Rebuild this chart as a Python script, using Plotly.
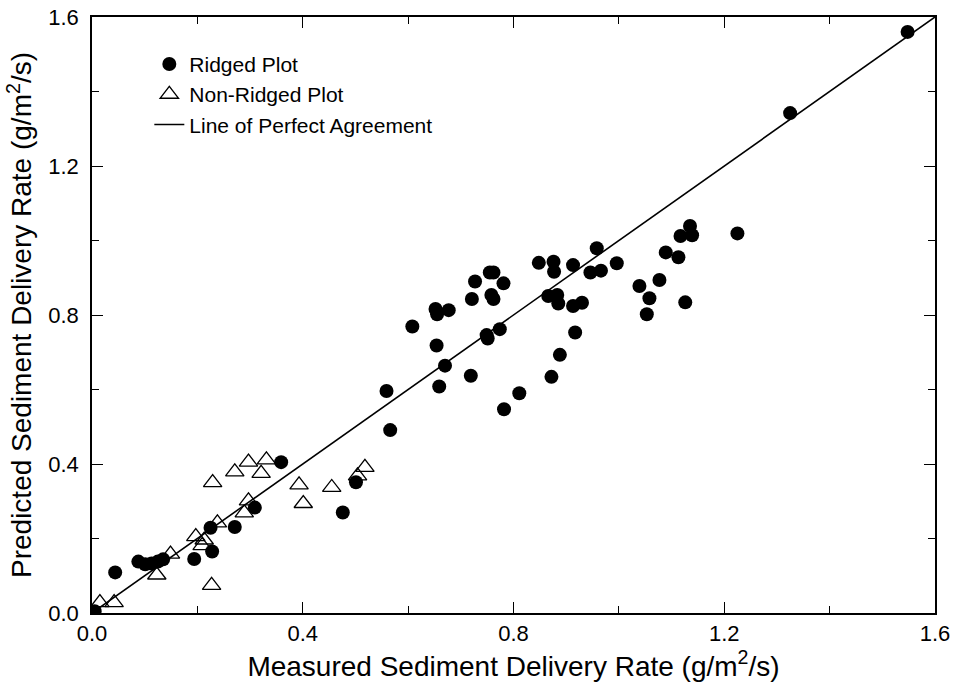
import plotly.graph_objects as go

# Ridged plot (filled circles)
ridged_x = [1.548, 1.325, 1.225, 1.135, 1.117, 1.139, 1.089, 1.113, 1.077, 1.126,
            1.058, 1.053, 1.039, 0.996, 0.966, 0.946, 0.958, 0.913, 0.876, 0.877,
            0.848, 0.866, 0.883, 0.885, 0.913, 0.930, 0.917, 0.888, 0.872, 0.811,
            0.782, 0.774, 0.749, 0.751, 0.758, 0.762, 0.781, 0.755, 0.762, 0.727,
            0.721, 0.719, 0.677, 0.652, 0.655, 0.654, 0.670, 0.659, 0.608, 0.559,
            0.566, 0.501, 0.476, 0.359, 0.309, 0.271, 0.225, 0.228, 0.194, 0.044,
            0.088, 0.101, 0.113, 0.125, 0.135, 0.005]
ridged_y = [1.560, 1.342, 1.019, 1.039, 1.012, 1.014, 0.968, 0.955, 0.894, 0.834,
            0.845, 0.802, 0.878, 0.939, 0.919, 0.914, 0.979, 0.934, 0.943, 0.916,
            0.940, 0.851, 0.854, 0.831, 0.824, 0.833, 0.753, 0.693, 0.634, 0.590,
            0.547, 0.762, 0.746, 0.737, 0.854, 0.843, 0.885, 0.914, 0.914, 0.890,
            0.843, 0.637, 0.813, 0.816, 0.802, 0.718, 0.664, 0.608, 0.769, 0.596,
            0.491, 0.351, 0.270, 0.405, 0.283, 0.231, 0.229, 0.165, 0.145, 0.109,
            0.138, 0.131, 0.133, 0.138, 0.144, 0.005]

# Non-ridged plot (open triangles)
nonridged_x = [0.015, 0.042, 0.123, 0.149, 0.227, 0.229, 0.197, 0.213, 0.209,
               0.238, 0.271, 0.297, 0.331, 0.321, 0.297, 0.289, 0.393, 0.401, 0.455,
               0.518, 0.504]
nonridged_y = [0.028, 0.028, 0.102, 0.158, 0.074, 0.350, 0.205, 0.196, 0.181,
               0.242, 0.379, 0.405, 0.411, 0.375, 0.301, 0.269, 0.344, 0.294, 0.337,
               0.391, 0.368]

# Line of perfect agreement
line_x = [0.0, 1.6]
line_y = [0.0, 1.6]

font_family = "Liberation Sans, Arial, sans-serif"

fig = go.Figure()
fig.add_trace(go.Scatter(
    x=ridged_x, y=ridged_y, mode="markers", name="Ridged Plot",
    marker=dict(symbol="circle", size=14, color="black"),
))
fig.add_trace(go.Scatter(
    x=nonridged_x, y=nonridged_y, mode="markers", name="Non-Ridged Plot",
    marker=dict(symbol="triangle-up-open", size=16, color="black", line=dict(width=1.3)),
))
fig.add_trace(go.Scatter(
    x=line_x, y=line_y, mode="lines", name="Line of Perfect Agreement",
    line=dict(color="black", width=1.6),
))

axis_common = dict(
    range=[0, 1.6],
    dtick=0.4,
    tick0=0,
    tickformat=".1f",
    ticks="inside",
    ticklen=11,
    tickwidth=1.2,
    tickcolor="black",
    minor=dict(dtick=0.2, ticks="inside", ticklen=7, tickwidth=1, tickcolor="black"),
    showline=True,
    linecolor="black",
    linewidth=1.6,
    mirror="ticks",
    showgrid=False,
    zeroline=False,
    automargin=False,
    tickfont=dict(size=22, color="black", family=font_family),
)

fig.update_xaxes(
    **axis_common,
    title=dict(text="Measured Sediment Delivery Rate (g/m<sup>2</sup>/s)",
               font=dict(size=28, color="black", family=font_family), standoff=6),
)
fig.update_yaxes(
    **axis_common,
    ticklabelstandoff=7,
    title=dict(text="Predicted Sediment Delivery Rate (g/m<sup>2</sup>/s)",
               font=dict(size=28, color="black", family=font_family), standoff=8),
)

fig.update_layout(
    width=956,
    height=687,
    margin=dict(l=92, r=21, t=17, b=74),
    paper_bgcolor="white",
    plot_bgcolor="white",
    font=dict(family=font_family, color="black"),
    legend=dict(
        x=0.068, y=0.955, xanchor="left", yanchor="top",
        font=dict(size=21, color="black"),
        bgcolor="rgba(0,0,0,0)",
        tracegroupgap=0,
    ),
)

fig.write_html(
    "out.html",
    config={"displayModeBar": False},
    post_script="document.body.style.margin='0';",
)
